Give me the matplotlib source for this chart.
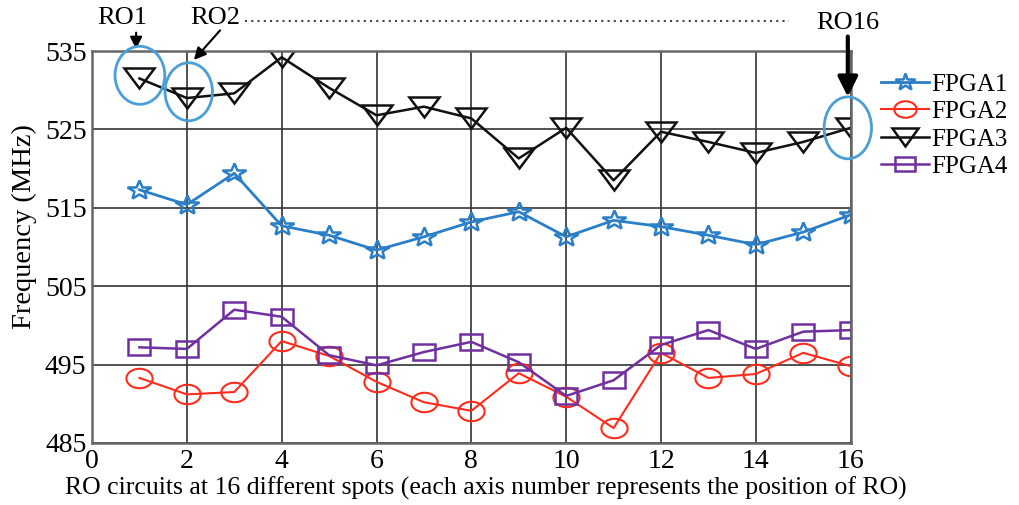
import matplotlib

matplotlib.use("Agg")
import matplotlib.pyplot as plt
from matplotlib.markers import MarkerStyle
from matplotlib.patches import Ellipse
from matplotlib.transforms import Affine2D

plt.rcParams["font.family"] = ["Liberation Serif", "DejaVu Serif"]

ro = list(range(1, 17))
fpga1 = [517.3, 515.4, 519.4, 512.7, 511.5, 509.6, 511.3, 513.2,
         514.5, 511.3, 513.4, 512.6, 511.5, 510.3, 511.9, 514.1]
fpga2 = [493.3, 491.2, 491.5, 498.0, 496.1, 492.8, 490.2, 489.1,
         493.9, 490.9, 486.9, 496.5, 493.3, 493.8, 496.5, 494.8]
fpga3 = [531.5, 529.0, 529.6, 534.2, 530.3, 526.8, 527.9, 526.4,
         521.3, 525.2, 518.5, 524.7, 523.4, 522.0, 523.4, 525.2]
fpga4 = [497.2, 497.0, 502.0, 501.1, 496.2, 494.9, 496.6, 497.9,
         495.3, 491.0, 493.0, 497.5, 499.4, 497.0, 499.2, 499.4]
xticks = [0, 2, 4, 6, 8, 10, 12, 14, 16]
yticks = [485, 495, 505, 515, 525, 535]


def wide(m, sx, sy):
    # the original figure is stretched sideways, so are its markers
    return MarkerStyle(m, transform=Affine2D().scale(sx, sy))


fig = plt.figure(figsize=(10.19, 5.05), dpi=100)
ax = fig.add_axes([0.0903, 0.1228, 0.7445, 0.7762])

ax.plot(ro, fpga1, color="#2a7fc8", marker=wide("*", 1.2, 1.0), ms=15, mfc="none", mew=1.8, lw=2, label="FPGA1")
ax.plot(ro, fpga2, color="#ff2b1c", marker=wide("o", 1.35, 1.0), ms=14, mfc="none", mew=1.5, lw=1.5, label="FPGA2")
ax.plot(ro, fpga3, color="#111111", marker=wide("v", 1.45, 1.0), ms=15, mfc="none", mew=1.8, lw=1.8, label="FPGA3")
ax.plot(ro, fpga4, color="#7030a0", marker=wide("s", 1.35, 1.0), ms=12, mfc="none", mew=1.8, lw=1.8, label="FPGA4")

ax.set_xlim(0, 16)
ax.set_ylim(485, 535)
ax.set_xticks(xticks)
ax.set_yticks(yticks)
ax.tick_params(labelsize=20, length=0, pad=4)
ax.grid(True, color="#333333", lw=1.2)
for s in ax.spines.values():
    s.set_color("#666666")
    s.set_linewidth(1.8)

ax.set_xlabel("RO circuits at 16 different spots (each axis number represents the position of RO)",
              fontsize=18.5)
ax.xaxis.set_label_coords(0.519, -0.085)
ax.set_ylabel("Frequency (MHz)", fontsize=20.5)
ax.yaxis.set_label_coords(-0.072, 0.553)

# highlighted ROs
for cx, cy, w, h in [(1.01, 531.9, 1.05, 7.4), (2.04, 529.8, 1.0, 7.4), (15.94, 525.2, 1.0, 7.9)]:
    ax.add_patch(Ellipse((cx, cy), w, h, fill=False, ec="#4a9fd8", lw=2, clip_on=False, zorder=5))

ax.text(0.63, 539.2, "RO1", fontsize=19, ha="center", va="center")
ax.text(2.59, 539.2, "RO2", fontsize=19, ha="center", va="center")
ax.text(15.94, 538.6, "RO16", fontsize=19, ha="center", va="center")
ax.annotate("", xy=(0.93, 534.9), xytext=(0.93, 537.7), annotation_clip=False,
            arrowprops=dict(arrowstyle="-|>", color="black", lw=1.5, mutation_scale=18))
ax.annotate("", xy=(2.11, 533.6), xytext=(2.74, 537.9), annotation_clip=False,
            arrowprops=dict(arrowstyle="-|>", color="black", lw=1.5, mutation_scale=18))
ax.annotate("", xy=(15.94, 528.8), xytext=(15.94, 537.2), annotation_clip=False,
            arrowprops=dict(arrowstyle="-|>", color="black", lw=3, mutation_scale=30))
ax.plot([3.23, 14.71], [538.8, 538.8], ls=(0, (1, 2)), color="#444444", lw=1.5, clip_on=False)

leg = fig.legend(loc="upper left", bbox_to_anchor=(0.855, 0.875), frameon=False, fontsize=18,
                 handlelength=1.9, handletextpad=0.1, labelspacing=0.2, borderaxespad=0,
                 markerscale=0.85)

fig.savefig("out.png", dpi=100)
